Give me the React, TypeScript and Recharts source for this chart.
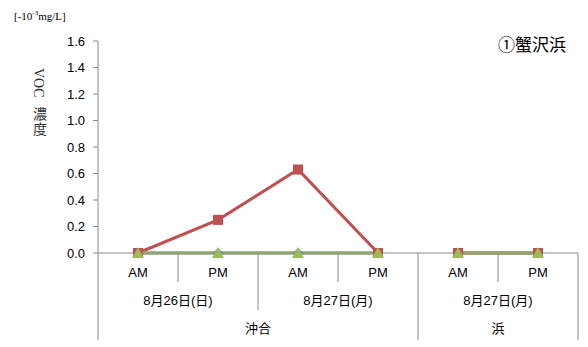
import React from 'react'
import { LineChart, Line, XAxis, YAxis } from 'recharts'

// ---- data ----
const slots = ['AM', 'PM', 'AM', 'PM', 'AM', 'PM']
const dates = ['8月26日(日)', '8月26日(日)', '8月27日(月)', '8月27日(月)', '8月27日(月)', '8月27日(月)']
const places = ['沖合', '沖合', '沖合', '沖合', '浜', '浜']
const blueVals = [0, 0, 0, 0, 0, 0]
const redVals = [0, 0.25, 0.63, 0, 0, 0]
const greenVals = [0, 0, 0, 0, 0, 0]
const yTicks = [0, 0.2, 0.4, 0.6, 0.8, 1.0, 1.2, 1.4, 1.6]

const BLUE = '#4f81bd'
const RED = '#c0504d'
const GREEN = '#9bbb59'
const AXIS = '#898989'
const FONT = '"Liberation Sans", "Noto Sans CJK JP", sans-serif'
const SERIF = '"Liberation Serif", "Noto Sans CJK JP", serif'

const W = 588
const H = 347
const X_H = 94
const M = { top: 41, right: 10, bottom: 0, left: 0 }
const Y_W = 98
const HALF = (W - M.right - Y_W) / slots.length / 2

// split each series per place so the line breaks between 沖合 and 浜
const split = (vals: number[], place: string) => vals.map((v, i) => (places[i] === place ? v : null))
const data = slots.map((s, i) => ({
  slot: s,
  idx: i,
  blueA: split(blueVals, '沖合')[i],
  blueB: split(blueVals, '浜')[i],
  redA: split(redVals, '沖合')[i],
  redB: split(redVals, '浜')[i],
  greenA: split(greenVals, '沖合')[i],
  greenB: split(greenVals, '浜')[i],
}))

const Square = (p: any) =>
  p.cy == null ? null : <rect key={p.key} x={p.cx - 5} y={p.cy - 5} width={10} height={10} fill={RED} />
const Tri = (p: any) =>
  p.cy == null ? null : (
    <polygon key={p.key} points={`${p.cx},${p.cy - 6} ${p.cx + 6},${p.cy + 5} ${p.cx - 6},${p.cy + 5}`} fill={GREEN} />
  )
const Diamond = (p: any) =>
  p.cy == null ? null : (
    <polygon key={p.key} points={`${p.cx},${p.cy - 5} ${p.cx + 5},${p.cy} ${p.cx},${p.cy + 5} ${p.cx - 5},${p.cy}`} fill={BLUE} />
  )

const runLen = (arr: string[], i: number) => {
  const key = (k: number) => places[k] + '|' + arr[k]
  let n = 1
  while (i + n < arr.length && key(i + n) === key(i)) n++
  return n
}

function XTick(props: any) {
  const { x, y, index } = props
  const newPlace = index === 0 || places[index] !== places[index - 1]
  const newDate = newPlace || dates[index] !== dates[index - 1]
  const depth = newPlace ? 87 : newDate ? 57 : 29
  const last = index === slots.length - 1
  return (
    <g>
      <line x1={x - HALF} y1={y} x2={x - HALF} y2={y + depth} stroke={AXIS} />
      {last && <line x1={x + HALF} y1={y} x2={x + HALF} y2={y + 87} stroke={AXIS} />}
      <text x={x} y={y + 24} textAnchor="middle" fontSize={13} fill="#000" fontFamily={FONT}>
        {slots[index]}
      </text>
      {newDate && (
        <text x={x - HALF + runLen(dates, index) * HALF} y={y + 52} textAnchor="middle" fontSize={13} fill="#000" fontFamily={FONT}>
          {dates[index]}
        </text>
      )}
      {newPlace && (
        <text x={x - HALF + runLen(places, index) * HALF} y={y + 80} textAnchor="middle" fontSize={13} fill="#000" fontFamily={FONT}>
          {places[index]}
        </text>
      )}
    </g>
  )
}

export default function App() {
  const series = [
    { k: 'blueA', c: BLUE, d: Diamond },
    { k: 'blueB', c: BLUE, d: Diamond },
    { k: 'redA', c: RED, d: Square },
    { k: 'redB', c: RED, d: Square },
    { k: 'greenA', c: GREEN, d: Tri },
    { k: 'greenB', c: GREEN, d: Tri },
  ]
  return (
    <div style={{ position: 'absolute', left: 0, top: 0, width: W, height: H, background: '#fff' }}>
      <LineChart width={W} height={H} data={data} margin={M}>
        <XAxis
          dataKey="idx"
          type="category"
          tick={<XTick />}
          tickLine={false}
          tickSize={0}
          tickMargin={0}
          height={X_H}
          padding={{ left: HALF, right: HALF }}
          axisLine={{ stroke: AXIS }}
          interval={0}
        />
        <YAxis
          domain={[0, 1.6]}
          ticks={yTicks}
          interval={0}
          width={Y_W}
          tickFormatter={(v: number) => v.toFixed(1)}
          tick={{ fontSize: 13, fill: '#000', fontFamily: FONT }}
          tickLine={{ stroke: AXIS }}
          tickSize={5}
          tickMargin={8}
          axisLine={{ stroke: AXIS }}
        />
        {series.map((s) => (
          <Line
            key={s.k}
            dataKey={s.k}
            stroke={s.c}
            strokeWidth={3}
            dot={s.d}
            activeDot={false}
            connectNulls={false}
            isAnimationActive={false}
          />
        ))}
        <text x={14} y={20} fontSize={11} fontFamily={SERIF} fill="#000">
          [-10<tspan dy={-5} fontSize={7}>-3</tspan>
          <tspan dy={5}>mg/L]</tspan>
        </text>
        {/* y-axis title: VOC rotated, kanji upright */}
        <text transform="translate(34,68) rotate(90)" fontSize={14} fontFamily={SERIF} fill="#333">
          VOC
        </text>
        <text x={40} y={119} textAnchor="middle" fontSize={14} fontFamily={SERIF} fill="#333">
          濃
        </text>
        <text x={40} y={134} textAnchor="middle" fontSize={14} fontFamily={SERIF} fill="#333">
          度
        </text>
        <text x={498} y={51} fontSize={17} fontFamily={SERIF} fill="#000">
          ①蟹沢浜
        </text>
      </LineChart>
    </div>
  )
}
